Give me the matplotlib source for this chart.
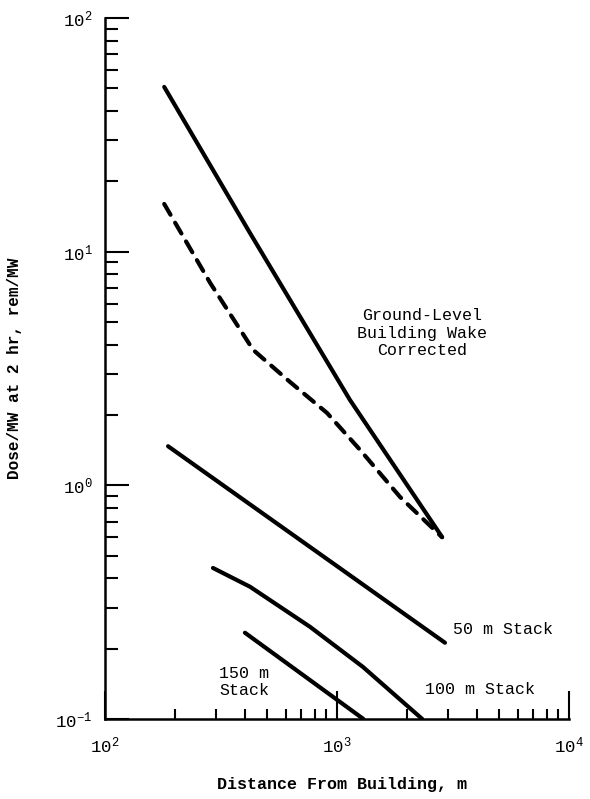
import matplotlib
matplotlib.use("Agg")
import matplotlib.pyplot as plt
from matplotlib.ticker import FixedLocator, NullFormatter, LogLocator

plt.rcParams['font.family'] = ['Liberation Mono', 'DejaVu Sans Mono']
plt.rcParams['mathtext.fontset'] = 'custom'
plt.rcParams['mathtext.rm'] = 'Liberation Mono'
plt.rcParams['mathtext.it'] = 'Liberation Mono'
plt.rcParams['mathtext.bf'] = 'Liberation Mono:bold'

# ---- data ----
ground_x = [180, 422, 1137, 2840]
ground_y = [50.7, 12.0, 2.32, 0.60]

wake_x = [180, 284, 435, 627, 906, 1256, 1869, 2835]
wake_y = [16.0, 7.35, 3.80, 2.77, 2.04, 1.42, 0.892, 0.60]

stack50_x = [187, 2920]
stack50_y = [1.47, 0.212]

stack100_x = [292, 422, 765, 1294, 2330]
stack100_y = [0.443, 0.368, 0.248, 0.167, 0.100]

stack150_x = [401, 1300]
stack150_y = [0.234, 0.100]

x_major = [1e2, 1e3, 1e4]
x_major_labels = ['10$^{2}$', '10$^{3}$', '10$^{4}$']
y_major = [1e-1, 1e0, 1e1, 1e2]
y_major_labels = ['10$^{-1}$', '10$^{0}$', '10$^{1}$', '10$^{2}$']

x_label = 'Distance From Building, m'
y_label = 'Dose/MW at 2 hr, rem/MW'
ground_label = 'Ground-Level\nBuilding Wake\nCorrected'
label50 = '50 m Stack'
label100 = '100 m Stack'
label150 = '150 m\nStack'

# ---- figure ----
W, H = 590, 799
fig = plt.figure(figsize=(W / 100, H / 100), dpi=100)
ax = fig.add_axes([105 / W, 1 - 719 / H, (569 - 105) / W, (719 - 18) / H])
ax.set_xscale('log')
ax.set_yscale('log')
ax.set_xlim(1e2, 1e4)
ax.set_ylim(1e-1, 1e2)


def fpos(px, py):
    return px / W, 1 - py / H


lw = 3.0
kw = dict(color='black', lw=lw, solid_capstyle='round')
ax.plot(ground_x, ground_y, **kw)
ax.plot(wake_x, wake_y, color='black', lw=lw, dashes=(3, 2.2),
        dash_capstyle='round')
ax.plot(stack50_x, stack50_y, **kw)
ax.plot(stack100_x, stack100_y, **kw)
ax.plot(stack150_x, stack150_y, **kw)

for s in ['top', 'right']:
    ax.spines[s].set_visible(False)
for s in ['left', 'bottom']:
    ax.spines[s].set_linewidth(1.8)

ax.xaxis.set_major_locator(FixedLocator(x_major))
ax.set_xticklabels(x_major_labels)
ax.xaxis.set_minor_locator(LogLocator(base=10, subs=range(2, 10)))
ax.xaxis.set_minor_formatter(NullFormatter())
ax.yaxis.set_major_locator(FixedLocator(y_major))
ax.set_yticklabels(y_major_labels)
ax.yaxis.set_minor_locator(LogLocator(base=10, subs=range(2, 10)))
ax.yaxis.set_minor_formatter(NullFormatter())

ax.tick_params(axis='x', which='major', direction='in', length=20, width=1.5,
               labelsize=12.5, pad=12)
ax.tick_params(axis='x', which='minor', direction='in', length=7.5, width=1.5)
ax.tick_params(axis='y', which='major', direction='in', length=17, width=1.5,
               labelsize=12.5, pad=9)
ax.tick_params(axis='y', which='minor', direction='in', length=9.5, width=1.5)

fig.text(*fpos(422, 333), ground_label, ha='center', va='center',
         fontsize=12, linespacing=1.2)
fig.text(*fpos(453, 630), label50, ha='left', va='center', fontsize=12)
fig.text(*fpos(425, 690), label100, ha='left', va='center', fontsize=12)
fig.text(*fpos(219, 682), label150, ha='left', va='center', fontsize=12,
         linespacing=1.2)

fig.text(*fpos(342, 784), x_label, ha='center', va='center',
         fontsize=12, fontweight='bold')
fig.text(*fpos(15, 368), y_label, ha='center', va='center',
         fontsize=11.5, fontweight='bold', rotation=90)

fig.savefig('out.png', dpi=100, facecolor='white')
